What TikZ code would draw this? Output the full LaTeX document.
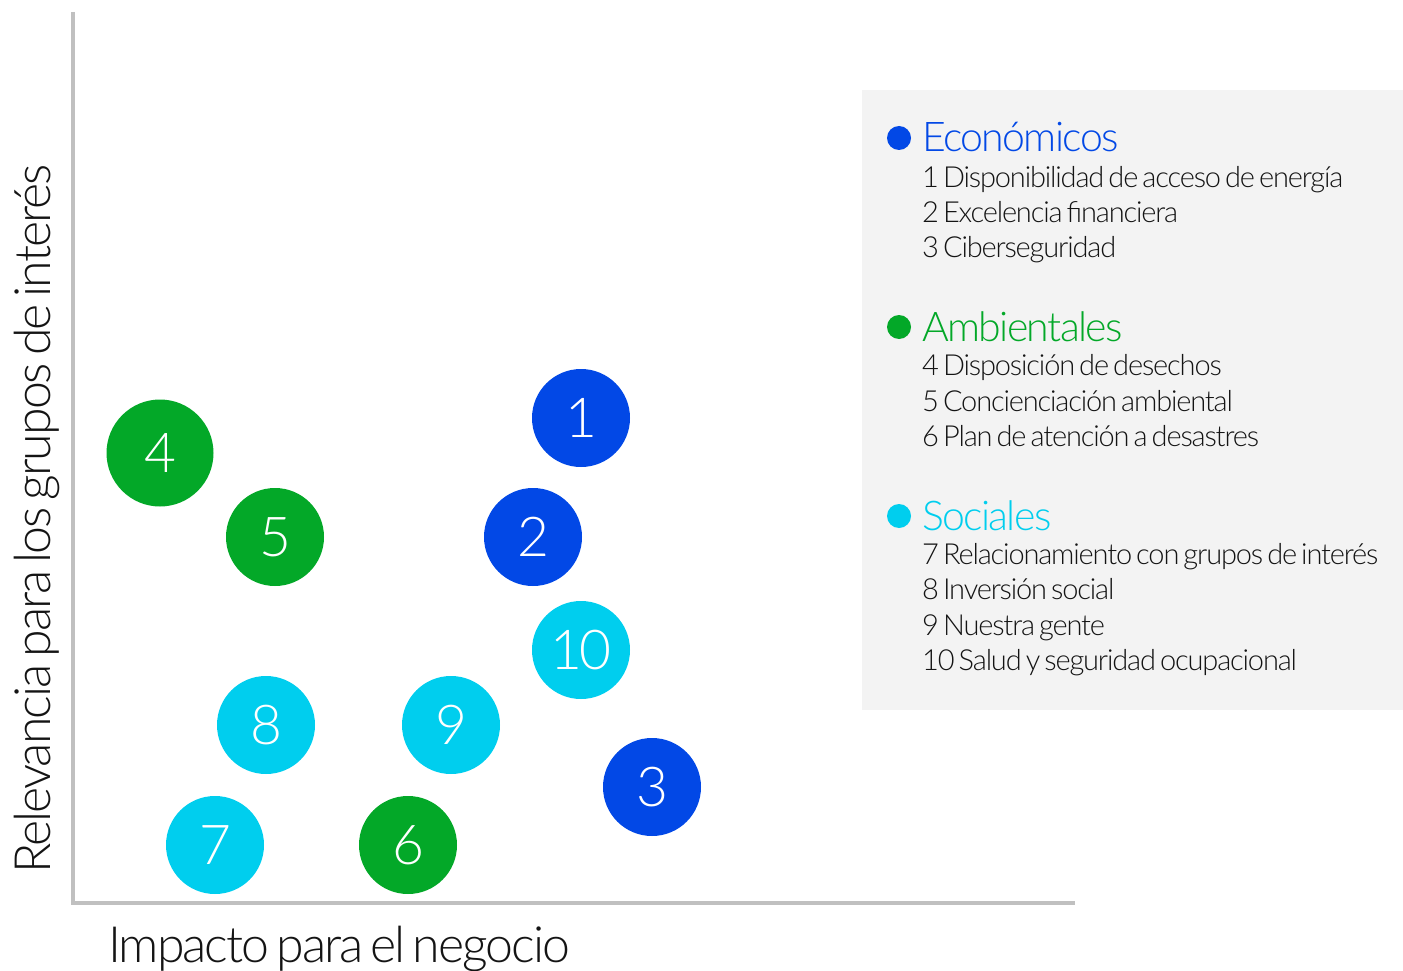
\documentclass[tikz,border=0pt]{standalone}
\usepackage{fontspec}
\setmainfont{Lato}[UprightFont={* Light}, LetterSpace=-4, WordSpace=0.6]
\definecolor{cblue}{RGB}{2,72,230}
\definecolor{cgreen}{RGB}{3,168,40}
\definecolor{ccyan}{RGB}{0,206,238}
\definecolor{axisgray}{RGB}{192,192,192}
\definecolor{boxgray}{RGB}{243,243,243}
\definecolor{txt}{RGB}{20,20,20}
\tikzset{
  bubble/.style={circle, minimum size=98pt, inner sep=0pt, text=white, font=\fontsize{55}{55}\selectfont},
  bigbubble/.style={bubble, minimum size=107pt},
  axislab/.style={text=txt, font=\fontsize{50}{50}\selectfont, inner sep=0pt},
  legdot/.style={circle, minimum size=24pt, inner sep=0pt},
  leghead/.style={anchor=base west, inner sep=0pt, font=\fontsize{41}{41}\selectfont},
  legitem/.style={anchor=base west, inner sep=0pt, text=txt, font=\fontsize{29}{29}\selectfont},
}
\begin{document}
\begin{tikzpicture}[x=1pt,y=-1pt]
\path[use as bounding box] (0,0) rectangle (1403,971);
% axes
\coordinate (ytop) at (73,12);
\coordinate (origin) at (73,903);
\coordinate (xend) at (1075,903);
\draw[axisgray, line width=4pt] (ytop) -- (origin) -- (xend);
% axis labels
\node[axislab, anchor=base west] (xlab) at (108,962) {Impacto para el negocio};
\node[axislab, anchor=base, rotate=90] (ylab) at (50,519) {Relevancia para los grupos de interés};
% bubbles
\node[bubble, fill=cblue] (b1) at (581,418) {1};
\node[bubble, fill=cblue] (b2) at (533,537) {2};
\node[bubble, fill=cblue] (b3) at (652,787) {3};
\node[bigbubble, fill=cgreen] (b4) at (160,453) {4};
\node[bubble, fill=cgreen] (b5) at (275,537) {5};
\node[bubble, fill=cgreen] (b6) at (408,845) {6};
\node[bubble, fill=ccyan] (b7) at (215,845) {7};
\node[bubble, fill=ccyan] (b8) at (266,725) {8};
\node[bubble, fill=ccyan] (b9) at (451,725) {9};
\node[bubble, fill=ccyan] (b10) at (581,650) {10};
% legend
\fill[boxgray] (862,90) rectangle (1403,710);
\node[legdot, fill=cblue] (d1) at (899,138) {};
\node[leghead, text=cblue] (h1) at (922,152) {Económicos};
\node[legitem] (i1) at (922,187) {1 Disponibilidad de acceso de energía};
\node[legitem] (i2) at (922,222) {2 Excelencia financiera};
\node[legitem] (i3) at (922,257) {3 Ciberseguridad};
\node[legdot, fill=cgreen] (d2) at (899,327) {};
\node[leghead, text=cgreen] (h2) at (922,341) {Ambientales};
\node[legitem] (i4) at (922,375) {4 Disposición de desechos};
\node[legitem] (i5) at (922,411) {5 Concienciación ambiental};
\node[legitem] (i6) at (922,446) {6 Plan de atención a desastres};
\node[legdot, fill=ccyan] (d3) at (899,516) {};
\node[leghead, text=ccyan] (h3) at (922,530) {Sociales};
\node[legitem] (i7) at (922,564) {7 Relacionamiento con grupos de interés};
\node[legitem] (i8) at (922,599) {8 Inversión social};
\node[legitem] (i9) at (922,635) {9 Nuestra gente};
\node[legitem] (i10) at (922,670) {10 Salud y seguridad ocupacional};
\end{tikzpicture}
\end{document}
